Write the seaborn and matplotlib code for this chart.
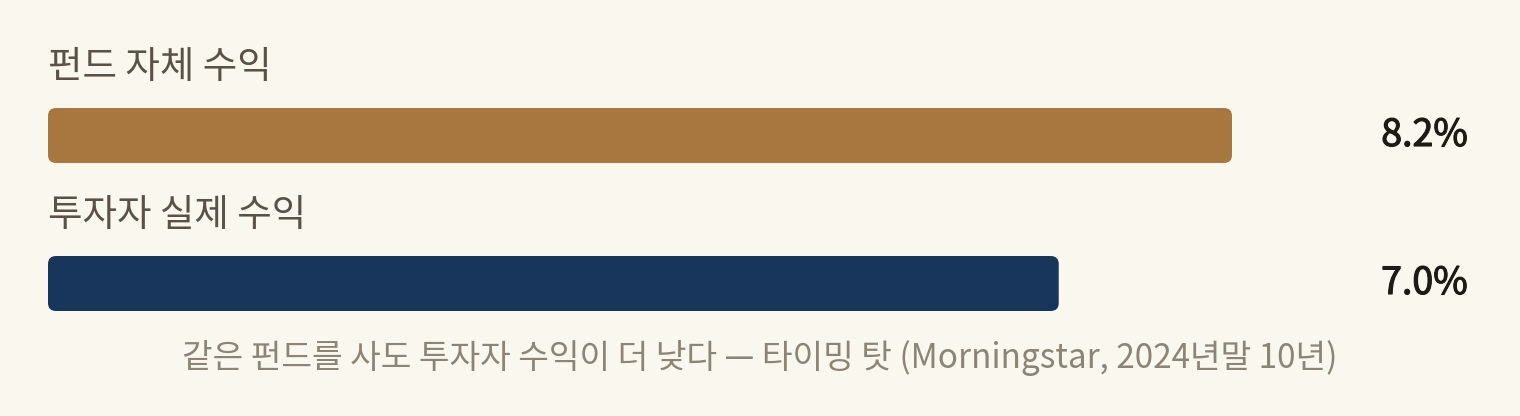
import matplotlib
matplotlib.use("Agg")
import matplotlib.pyplot as plt
import matplotlib.transforms as mtransforms
import matplotlib.patheffects as pe
from matplotlib.patches import FancyBboxPatch
import seaborn as sns
import pandas as pd

categories = ["펀드 자체 수익", "투자자 실제 수익"]
values = [8.2, 7.0]
value_labels = ["8.2%", "7.0%"]
colors = ["#a87740", "#18365b"]
caption = "같은 펀드를 사도 투자자 수익이 더 낮다 — 타이밍 탓 (Morningstar, 2024년말 10년)"

BG = "#faf7ef"
sns.set_theme(style="white")
plt.rcParams["font.family"] = ["Noto Sans CJK KR", "DejaVu Sans"]

df = pd.DataFrame({"category": categories, "value": values})

fig = plt.figure(figsize=(15.2, 4.16), dpi=100, facecolor=BG)
ax = fig.add_axes([48 / 1520, 1 - 357.5 / 416, 1184 / 1520, 296 / 416])
ax.set_facecolor(BG)

sns.barplot(data=df, x="value", y="category", hue="category", palette=colors,
            orient="h", width=55 / 148, legend=False, ax=ax, saturation=1)

ax.set_xlim(0, 8.2)
ax.set_ylim(1.5, -0.5)

# replace bars with rounded ones
for p in list(ax.patches):
    x, y = p.get_x(), p.get_y()
    w, h = p.get_width(), p.get_height()
    fc = p.get_facecolor()
    p.remove()
    r = 8 / 144.4
    fb = FancyBboxPatch((x, y), w, h,
                        boxstyle=f"round,pad=0,rounding_size={r}",
                        mutation_aspect=144.4 / 148,
                        facecolor=fc, edgecolor="none", clip_on=False)
    ax.add_patch(fb)

for s in ax.spines.values():
    s.set_visible(False)
ax.set_xticks([])
ax.set_yticks([])
ax.set_xlabel("")
ax.set_ylabel("")

trans = mtransforms.blended_transform_factory(fig.transFigure, ax.transData)
for i, (cat, lab) in enumerate(zip(categories, value_labels)):
    ax.text(0, i - 0.46, cat, ha="left", va="center", fontsize=27,
            color="#5a5247", clip_on=False)
    ax.text(1468 / 1520, i + 0.0, lab, ha="right", va="center", fontsize=27,
            color="#1e1b16", transform=trans, clip_on=False,
            path_effects=[pe.withStroke(linewidth=0.8, foreground="#1e1b16")])

fig.text(760 / 1520, 1 - 358 / 416, caption, ha="center", va="center",
         fontsize=24, color="#8c8477")

fig.savefig("out.png", dpi=100, facecolor=BG)
